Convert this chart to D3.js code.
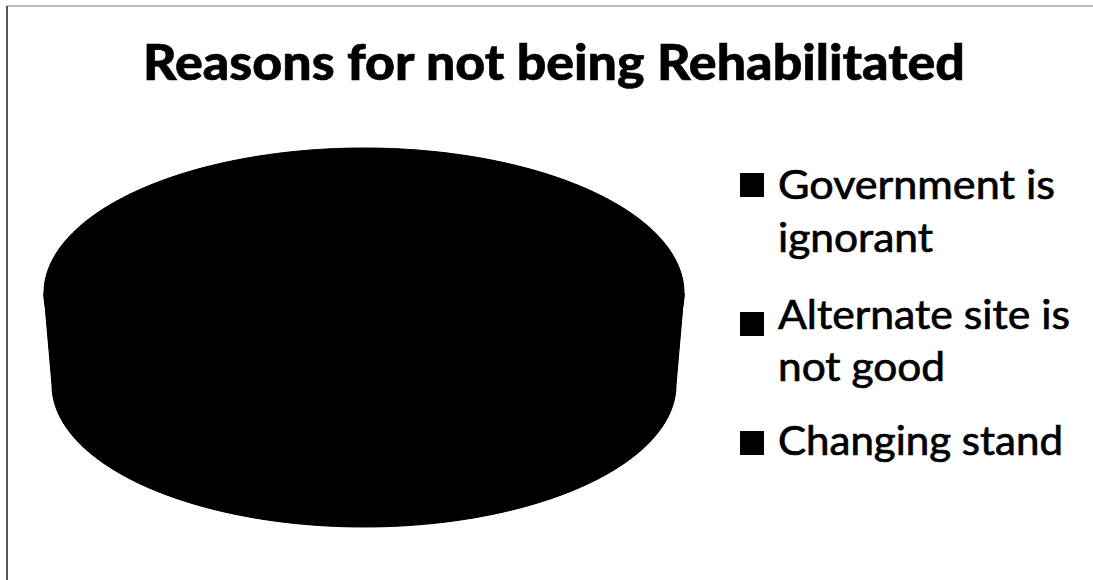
<!DOCTYPE html>
<html>
<head>
<meta charset="utf-8">
<script src="https://cdn.jsdelivr.net/npm/d3@7"></script>
<style>
  html, body { margin: 0; padding: 0; background: #fff; }
  svg { display: block; }
</style>
</head>
<body>
<svg id="chart" width="1093" height="580"></svg>
<script>
// ---- data (estimated; all slices printed in black in the source) ----
const title = "Reasons for not being Rehabilitated";
const categories = ["Government is ignorant", "Alternate site is not good", "Changing stand"];
const legendLines = [["Government is", "ignorant"], ["Alternate site is", "not good"], ["Changing stand"]];
const values = [58, 33, 9];
const colors = ["#000000", "#000000", "#000000"];

// ---- layout ----
const svg = d3.select("#chart");
const W = 1093, H = 580;
svg.append("rect").attr("width", W).attr("height", H).attr("fill", "#fff");

// frame (scanned border: top and left edges visible)
svg.append("line").attr("x1", 7).attr("x2", W).attr("y1", 6).attr("y2", 6)
  .attr("stroke", "#777").attr("stroke-width", 1.2);
svg.append("line").attr("x1", 7).attr("x2", 7).attr("y1", 6).attr("y2", H)
  .attr("stroke", "#222").attr("stroke-width", 1.5);

// title
svg.append("text")
  .attr("x", 143).attr("y", 80)
  .attr("font-family", "Lato, 'Open Sans', sans-serif")
  .attr("font-weight", 900)
  .attr("font-size", 49)
  .attr("fill", "#000")
  .attr("stroke", "#000").attr("stroke-width", 0.6)
  .attr("textLength", 822).attr("lengthAdjust", "spacingAndGlyphs")
  .text(title);

// ---- 3D pie ----
const cx = 364;
const topE = { cy: 293, rx: 320, ry: 145 };
const botE = { cy: 385, rx: 312, ry: 142 };
const ptTop = a => [cx + topE.rx * Math.sin(a), topE.cy - topE.ry * Math.cos(a)];
const ptBot = a => [cx + botE.rx * Math.sin(a), botE.cy - botE.ry * Math.cos(a)];

const pie = d3.pie().sort(null).value(d => d);
const arcs = pie(values);
const line = d3.line();
const sample = (a0, a1) => {
  const n = Math.max(2, Math.ceil((a1 - a0) / 0.01));
  return d3.range(n + 1).map(i => a0 + (a1 - a0) * i / n);
};

const gPie = svg.append("g");
// silhouette underlay so slice seams do not show
const fullAng = sample(0, 2 * Math.PI);
const frontAng = sample(Math.PI / 2, 3 * Math.PI / 2);
gPie.append("path").attr("d", line(fullAng.map(ptTop)) + "Z").attr("fill", "#000");
gPie.append("path")
  .attr("d", line(frontAng.map(ptTop).concat(frontAng.slice().reverse().map(ptBot))) + "Z")
  .attr("fill", "#000");

// outer side walls (front-facing part: angles between PI/2 and 3PI/2)
arcs.forEach((d, i) => {
  const a0 = Math.max(d.startAngle, Math.PI / 2);
  const a1 = Math.min(d.endAngle, 3 * Math.PI / 2);
  if (a1 <= a0) return;
  const angs = sample(a0, a1);
  const pts = angs.map(ptTop).concat(angs.slice().reverse().map(ptBot));
  gPie.append("path")
    .attr("d", line(pts) + "Z")
    .attr("fill", colors[i])
    .attr("stroke", colors[i])
    .attr("stroke-width", 1);
});
// top faces
arcs.forEach((d, i) => {
  const angs = sample(d.startAngle, d.endAngle);
  const pts = [[cx, topE.cy]].concat(angs.map(ptTop));
  gPie.append("path")
    .attr("d", line(pts) + "Z")
    .attr("fill", colors[i])
    .attr("stroke", colors[i])
    .attr("stroke-width", 1);
});

// ---- legend ----
const legendItems = [
  { sq: 173, lines: [199, 252] },
  { sq: 312, lines: [329, 381] },
  { sq: 431, lines: [455] }
];
const lineWidths = [[277, 155], [292, 167], [285]];
const gLeg = svg.append("g");
categories.forEach((c, i) => {
  const it = legendItems[i];
  gLeg.append("rect")
    .attr("x", 740).attr("y", it.sq)
    .attr("width", 24).attr("height", 24)
    .attr("fill", colors[i]);
  legendLines[i].forEach((t, j) => {
    gLeg.append("text")
      .attr("x", 778).attr("y", it.lines[j])
      .attr("font-family", "Lato, 'Open Sans', sans-serif")
      .attr("font-size", 40)
      .attr("fill", "#000")
      .attr("stroke", "#000").attr("stroke-width", 0.7)
      .attr("textLength", lineWidths[i][j])
      .attr("lengthAdjust", "spacingAndGlyphs")
      .text(t);
  });
});
</script>
</body>
</html>
